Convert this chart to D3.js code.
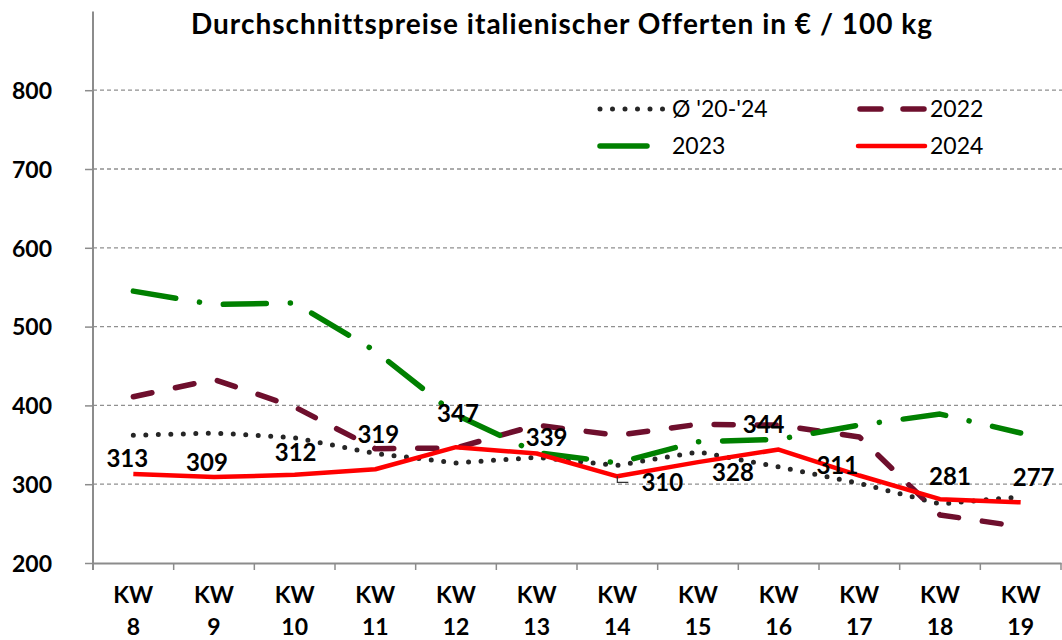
<!DOCTYPE html>
<html><head><meta charset="utf-8">
<script src="https://cdn.jsdelivr.net/npm/d3@7"></script>
<style>body{margin:0;background:#fff}svg{display:block}text{font-family:Lato,"Open Sans",sans-serif}</style>
</head><body><svg id="c" width="1062" height="640"></svg>
<script>
const categories = ["KW 8","KW 9","KW 10","KW 11","KW 12","KW 13","KW 14","KW 15","KW 16","KW 17","KW 18","KW 19"];
const avg2024 = [362, 365, 359, 339, 327, 334, 324, 341, 322, 301, 275, 284];
const y2022 = [411, 433, 398, 345, 346, 375, 362, 376, 375, 360, 261, 246];
const y2023 = [545, 528, 530, 469, 388, 340, 327, 354, 357, 375, 389, 365];
const y2024 = [313, 309, 312, 319, 347, 339, 310, 328, 344, 311, 281, 277];
const yTicks = [200, 300, 400, 500, 600, 700, 800];
const title = "Durchschnittspreise italienischer Offerten in € / 100 kg";
const legendNames = ["Ø '20-'24", "2022", "2023", "2024"];
// label placement offsets (layout only)
const labelDx = [-6, -7, 1, 3, 2, 10, 45, 35, -15, -22, 10, 13];
const labelDy = [-16, -15, -22, -35, -34, -16, 6, 10, -25, -10, -23, -25];

const svg = d3.select("#c");
const x = d3.scaleBand().domain(categories).range([93, 1061]).paddingInner(0).paddingOuter(0);
const y = d3.scaleLinear().domain([200, 900]).range([563, 11.4]);
const cx = c => x(c) + x.bandwidth() / 2;

// gridlines
svg.append("g").selectAll("line").data(yTicks.filter(t => t > 200)).join("line")
  .attr("x1", 93).attr("x2", 1062).attr("y1", d => y(d)).attr("y2", d => y(d))
  .attr("stroke", "#909090").attr("stroke-width", 1.3).attr("stroke-dasharray", "4,3");

// y axis
const yAxis = svg.append("g").attr("transform", "translate(93,0)")
  .call(d3.axisLeft(y).tickValues(yTicks).tickSize(8).tickFormat(d3.format("d")));
yAxis.select(".domain").remove();
yAxis.selectAll(".tick line").attr("stroke", "#8c8c8c").attr("stroke-width", 1.5);
yAxis.selectAll(".tick text").attr("x", -41).attr("text-anchor", "end")
  .attr("font-size", 23).attr("font-weight", 700).attr("fill", "#000").attr("dy", "0.36em");
svg.append("line").attr("x1", 93).attr("x2", 93).attr("y1", y(900)).attr("y2", 570)
  .attr("stroke", "#8c8c8c").attr("stroke-width", 2);

// x axis
const xAxis = svg.append("g").attr("transform", "translate(0,563)")
  .call(d3.axisBottom(x).tickSize(0).tickFormat(""));
xAxis.select(".domain").attr("stroke", "#8c8c8c").attr("stroke-width", 1.8);
xAxis.selectAll(".tick").remove();
const bounds = categories.map(c => x(c)).concat([x(categories[categories.length - 1]) + x.bandwidth()]);
svg.append("g").selectAll("line").data(bounds).join("line")
  .attr("x1", d => d).attr("x2", d => d).attr("y1", 563).attr("y2", 570)
  .attr("stroke", "#8c8c8c").attr("stroke-width", 1.5);
const xl = svg.append("g").selectAll("text").data(categories).join("text")
  .attr("text-anchor", "middle").attr("font-size", 23).attr("font-weight", 700).attr("fill", "#000");
xl.append("tspan").attr("x", d => cx(d)).attr("y", 603).text(d => d.split(" ")[0]);
xl.append("tspan").attr("x", d => cx(d)).attr("y", 635).text(d => d.split(" ")[1]);

// lines
const line = d3.line().x((d, i) => cx(categories[i])).y(d => y(d));
const series = [
  {v: avg2024, color: "#262626", w: 5, dash: "0,12.5", cap: "round"},
  {v: y2022, color: "#6e0f2d", w: 5.5, dash: "19,24", cap: "round"},
  {v: y2023, color: "#008000", w: 5.5, dash: "43,24,0.1,24", cap: "round"},
  {v: y2024, color: "#ff0000", w: 4.5, dash: null, cap: "butt"}
];
series.forEach(s => {
  svg.append("path").datum(s.v).attr("d", line).attr("fill", "none")
    .attr("stroke", s.color).attr("stroke-width", s.w).attr("stroke-linecap", s.cap)
    .attr("stroke-linejoin", "round").attr("stroke-dasharray", s.dash);
});

// leader line for KW 14 label
const p14 = [cx(categories[6]), y(y2024[6])];
svg.append("path").attr("d", `M${p14[0]},${p14[1]}v6h11`).attr("fill", "none")
  .attr("stroke", "#333").attr("stroke-width", 1.2);

// data labels
svg.append("g").selectAll("text").data(y2024).join("text")
  .attr("x", (d, i) => cx(categories[i]) + labelDx[i])
  .attr("y", (d, i) => y(d) + labelDy[i])
  .attr("dy", "0.36em").attr("text-anchor", "middle")
  .attr("font-size", 24).attr("font-weight", 700).attr("fill", "#000").text(d => d);

// title
svg.append("text").attr("x", 562).attr("y", 34).attr("text-anchor", "middle")
  .attr("font-size", 28).attr("font-weight", 700).attr("letter-spacing", 1).attr("fill", "#000").text(title);

// legend
const leg = [
  {name: legendNames[0], s: series[0], x1: 600, x2: 665, y: 109, tx: 672},
  {name: legendNames[1], s: series[1], x1: 860, x2: 925, y: 109, tx: 930},
  {name: legendNames[2], s: series[2], x1: 600, x2: 647, y: 146, tx: 672},
  {name: legendNames[3], s: series[3], x1: 858, x2: 925, y: 146, tx: 930}
];
const lg = svg.append("g").selectAll("g").data(leg).join("g");
lg.append("line").attr("x1", d => d.x1).attr("x2", d => d.x2).attr("y1", d => d.y).attr("y2", d => d.y)
  .attr("stroke", d => d.s.color).attr("stroke-width", d => d.s.w)
  .attr("stroke-linecap", d => d.s.cap === "butt" ? "round" : d.s.cap)
  .attr("stroke-dasharray", (d, i) => i === 0 ? "0,12.5" : i === 1 ? "21,22" : null);
lg.append("text").attr("x", d => d.tx).attr("y", d => d.y).attr("dy", "0.36em")
  .attr("font-size", 23).attr("fill", "#000").text(d => d.name);
</script></body></html>
